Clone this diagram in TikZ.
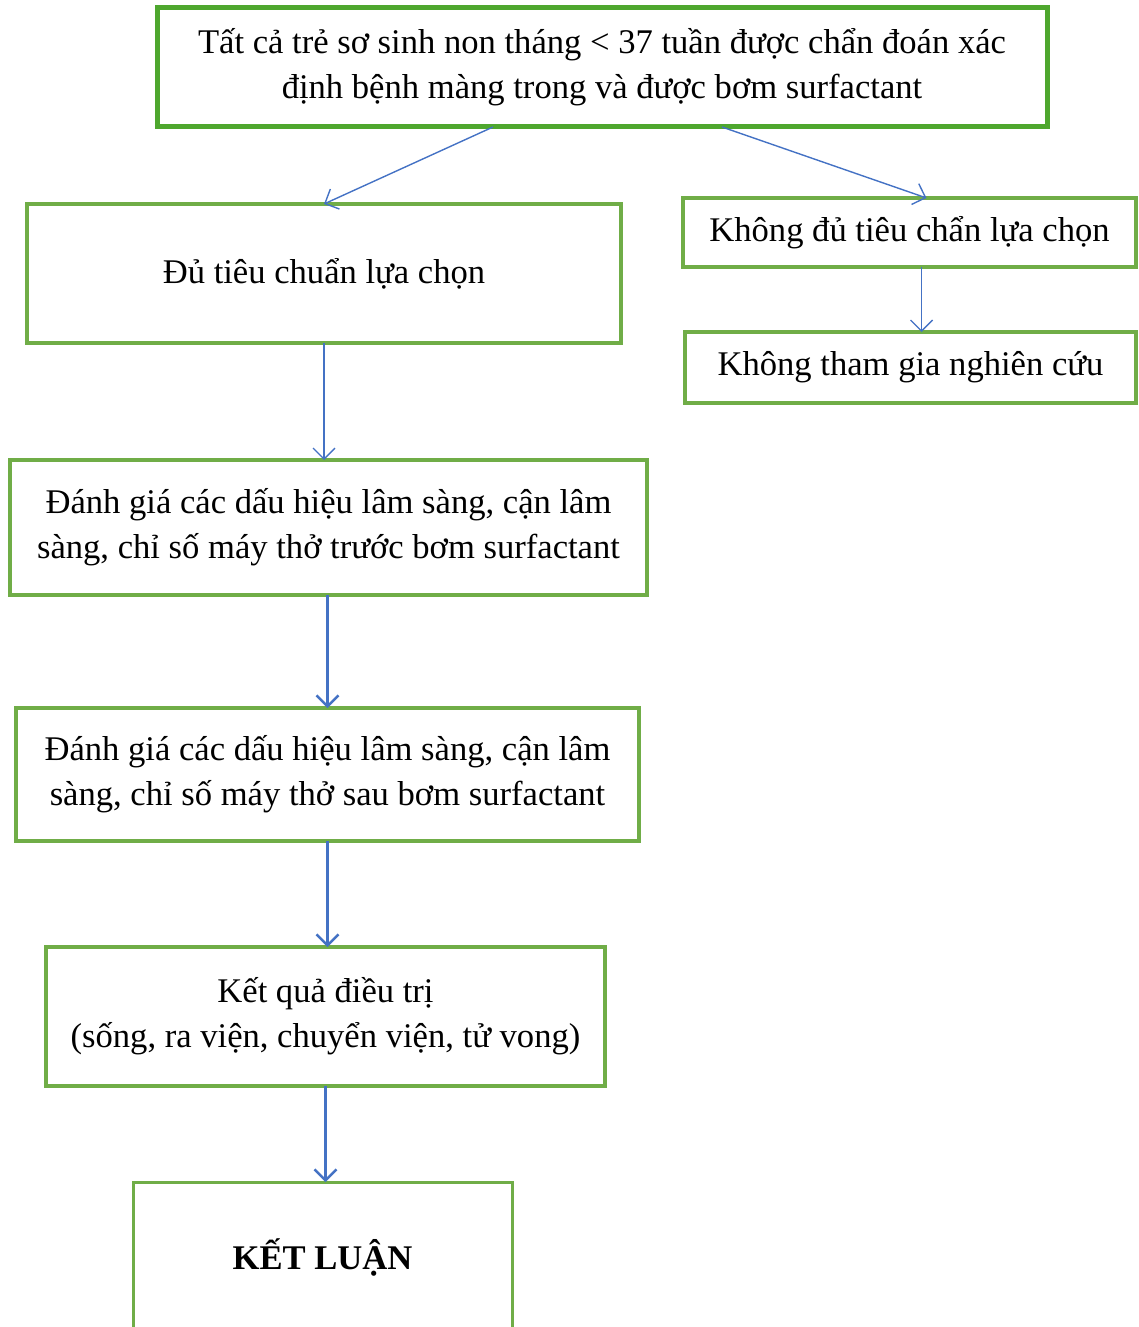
\documentclass[tikz,border=0pt]{standalone}
\usepackage{fontspec}
\setmainfont{Liberation Serif}
\usepackage{tikz}
\usetikzlibrary{arrows.meta}

\definecolor{boxgreen}{HTML}{70AD47}
\definecolor{topgreen}{HTML}{4EA72E}
\definecolor{arrowblue}{HTML}{4472C4}

\begin{document}
\begin{tikzpicture}
[x=1pt,y=-1pt,
 box/.style={draw=boxgreen,line width=4pt,inner sep=0pt,outer sep=0pt,align=center,
   font=\fontsize{34.6}{45}\selectfont},
 link/.style={draw=arrowblue,line width=1.4pt,-{Straight Barb[length=11pt,width=22pt]}},
 thicklink/.style={link,line width=2.4pt}]
\useasboundingbox (0,0) rectangle (1139,1327);

\node[box,draw=topgreen,line width=5pt,minimum width=890pt,minimum height=119pt](top) at (602,67.5)
 {Tất cả trẻ sơ sinh non tháng < 37 tuần được chẩn đoán xác\\định bệnh màng trong và được bơm surfactant};

\node[box,minimum width=594pt,minimum height=139pt](ok) at (324,273.5) {Đủ tiêu chuẩn lựa chọn};
\node[box,minimum width=453pt,minimum height=69pt](notok) at (909.5,232.5) {Không đủ tiêu chẩn lựa chọn};
\node[box,minimum width=451pt,minimum height=71pt](out) at (910.5,367.5) {Không tham gia nghiên cứu};

\node[box,minimum width=637pt,minimum height=135pt](pre) at (328.5,527.5)
 {Đánh giá các dấu hiệu lâm sàng, cận lâm\\sàng, chỉ số máy thở trước bơm surfactant};
\node[box,minimum width=623pt,minimum height=133pt](post) at (327.5,774.5)
 {Đánh giá các dấu hiệu lâm sàng, cận lâm\\sàng, chỉ số máy thở sau bơm surfactant};
\node[box,minimum width=559pt,minimum height=139pt](result) at (325.5,1016.5)
 {Kết quả điều trị\\(sống, ra viện, chuyển viện, tử vong)};
\node[box,line width=3pt,minimum width=379pt,minimum height=150pt](concl) at (322.5,1257)
 {\textbf{KẾT LUẬN}};

\draw[link] ([xshift=-109pt]top.south) -- (ok.north);
\draw[link] ([xshift=120pt]top.south) -- ([xshift=17pt]notok.north);
\draw[link] ([xshift=12pt]notok.south) -- ([xshift=11pt]out.north);
\draw[link] (ok.south) -- (ok.south |- pre.north);
\draw[thicklink] (pre.south -| post.north) -- (post.north);
\draw[thicklink] (post.south) -- (post.south |- result.north);
\draw[thicklink] (result.south) -- (result.south |- concl.north);

\end{tikzpicture}
\end{document}
